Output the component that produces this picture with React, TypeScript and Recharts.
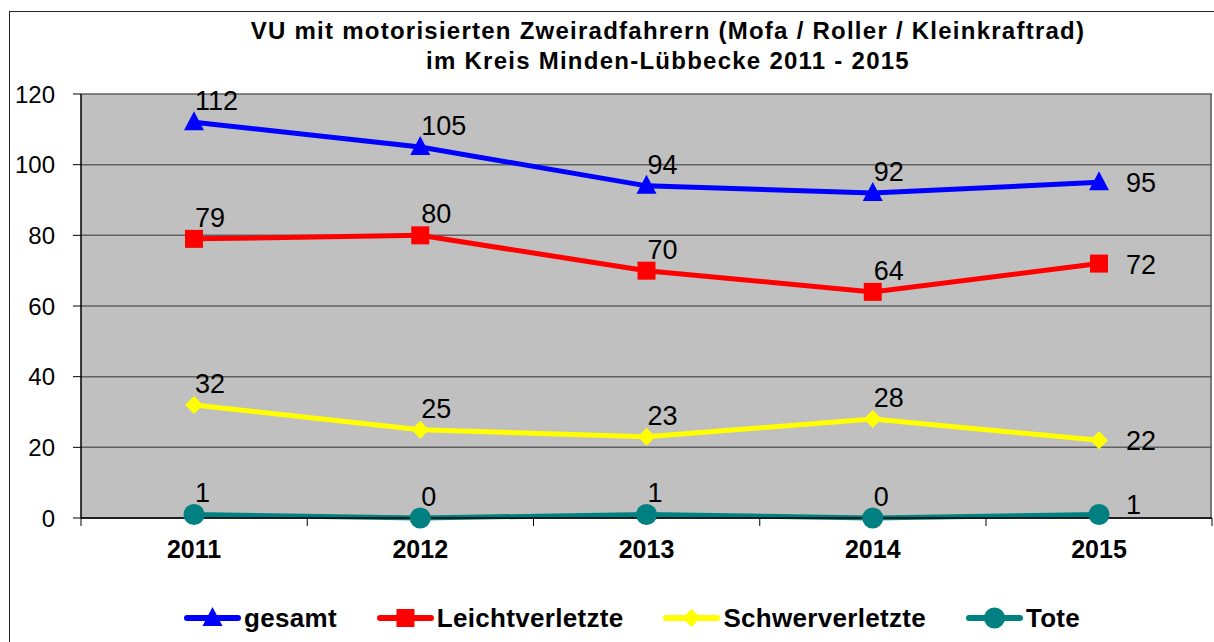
import React from 'react';
import {
  LineChart,
  Line,
  XAxis,
  YAxis,
  CartesianGrid,
  Legend,
} from 'recharts';

const years = ['2011', '2012', '2013', '2014', '2015'];
const gesamt = [112, 105, 94, 92, 95];
const leicht = [79, 80, 70, 64, 72];
const schwer = [32, 25, 23, 28, 22];
const tote = [1, 0, 1, 0, 1];
const yTicks = [0, 20, 40, 60, 80, 100, 120];

const series = [
  { key: 'gesamt', name: 'gesamt', color: '#0000FF', shape: 'triangle' },
  { key: 'leicht', name: 'Leichtverletzte', color: '#FF0000', shape: 'square' },
  { key: 'schwer', name: 'Schwerverletzte', color: '#FFFF00', shape: 'diamond' },
  { key: 'tote', name: 'Tote', color: '#008080', shape: 'circle' },
];

const data = years.map((year, i) => ({
  year,
  gesamt: gesamt[i],
  leicht: leicht[i],
  schwer: schwer[i],
  tote: tote[i],
}));

const FONT = '"Liberation Sans", Arial, sans-serif';
const W = 1214;
const H = 642;
const HALF_BAND = 113;

const Marker = ({ shape, color, cx, cy }: any) => {
  if (cx == null || cy == null) return null;
  if (shape === 'triangle') {
    return <polygon points={`${cx},${cy - 11} ${cx + 10},${cy + 8} ${cx - 10},${cy + 8}`} fill={color} />;
  }
  if (shape === 'square') {
    return <rect x={cx - 9} y={cy - 9} width={18} height={18} fill={color} />;
  }
  if (shape === 'diamond') {
    return <polygon points={`${cx},${cy - 9} ${cx + 9},${cy} ${cx},${cy + 9} ${cx - 9},${cy}`} fill={color} />;
  }
  return <circle cx={cx} cy={cy} r={10.5} fill={color} />;
};

// Excel-style labels: above-right for most points, to the right for the last one
const makeLabel = (lastDy: number) => (props: any) => {
  const { x, y, value, index } = props;
  const last = index === years.length - 1;
  return (
    <text
      x={last ? x + 27 : x + 1}
      y={last ? y + lastDy : y - 22}
      dy={10}
      textAnchor="start"
      fontFamily={FONT}
      fontSize={27}
      fill="#000"
    >
      {value}
    </text>
  );
};

const XTick = (props: any) => {
  const { x, y, payload, index } = props;
  const axisY = y - 8;
  const last = index === years.length - 1;
  return (
    <g>
      <line x1={x - HALF_BAND} y1={axisY} x2={x - HALF_BAND} y2={axisY + 8} stroke="#000" />
      {last && <line x1={x + HALF_BAND} y1={axisY} x2={x + HALF_BAND} y2={axisY + 8} stroke="#000" />}
      <text x={x} y={axisY + 40} textAnchor="middle" fontFamily={FONT} fontWeight="bold" fontSize={25} fill="#000">
        {payload.value}
      </text>
    </g>
  );
};

const LegendContent = () => (
  <div style={{ display: 'flex', alignItems: 'center', height: 40, gap: 40, fontFamily: FONT }}>
    {series.map((s) => (
      <div key={s.key} style={{ display: 'flex', alignItems: 'center', gap: 3 }}>
        <svg width={57} height={24}>
          <line x1={3} y1={12} x2={54} y2={12} stroke={s.color} strokeWidth={6} strokeLinecap="round" />
          <Marker shape={s.shape} color={s.color} cx={28.5} cy={12} />
        </svg>
        <span style={{ fontWeight: 'bold', fontSize: 26, letterSpacing: 0.3, color: '#000' }}>{s.name}</span>
      </div>
    ))}
  </div>
);

export default function App() {
  return (
    <div style={{ position: 'fixed', left: 0, top: 0, width: W, height: H, overflow: 'hidden', background: '#fff' }}>
      <div
        style={{
          position: 'absolute',
          left: 9,
          top: 11,
          width: W + 20,
          height: H + 20,
          border: '1px solid #222',
        }}
      />
      <div
        style={{
          position: 'absolute',
          left: 218,
          width: 900,
          top: 16,
          textAlign: 'center',
          fontFamily: FONT,
          fontWeight: 'bold',
          fontSize: 24,
          letterSpacing: 1.25,
          lineHeight: '30px',
          color: '#000',
        }}
      >
        VU mit motorisierten Zweiradfahrern (Mofa / Roller / Kleinkraftrad)
        <br />
        im Kreis Minden-Lübbecke 2011 - 2015
      </div>
      <div style={{ position: 'absolute', left: 0, top: 0 }}>
        <LineChart width={W} height={H} data={data} margin={{ top: 94, right: 2, bottom: 34, left: 0 }}>
          <CartesianGrid
            vertical={true}
            verticalCoordinatesGenerator={({ offset }: any) => [offset.left + offset.width - 1]}
            stroke="#606060"
            strokeWidth={1.5}
            fill="#C0C0C0"
            fillOpacity={1}
          />
          <XAxis
            dataKey="year"
            height={50}
            padding={{ left: HALF_BAND, right: HALF_BAND }}
            axisLine={{ stroke: '#000', strokeWidth: 1.5 }}
            tickLine={false}
            tick={<XTick />}
            interval={0}
          />
          <YAxis
            width={81}
            domain={[0, 120]}
            ticks={yTicks}
            interval={0}
            tickSize={8}
            tickMargin={18}
            axisLine={{ stroke: '#000', strokeWidth: 1.5 }}
            tickLine={{ stroke: '#000' }}
            tick={{ fill: '#000', fontSize: 24, fontFamily: FONT }}
          />
          <Legend
            content={<LegendContent />}
            wrapperStyle={{ left: 184, top: 598, width: 'auto' }}
          />
          {series.map((s) => (
            <Line
              key={s.key}
              dataKey={s.key}
              name={s.name}
              stroke={s.color}
              strokeWidth={5}
              isAnimationActive={false}
              dot={(p: any) => <Marker key={`${s.key}-${p.index}`} shape={s.shape} color={s.color} cx={p.cx} cy={p.cy} />}
              activeDot={false}
              label={makeLabel(s.key === 'tote' ? -10 : 0)}
            />
          ))}
        </LineChart>
      </div>
    </div>
  );
}
